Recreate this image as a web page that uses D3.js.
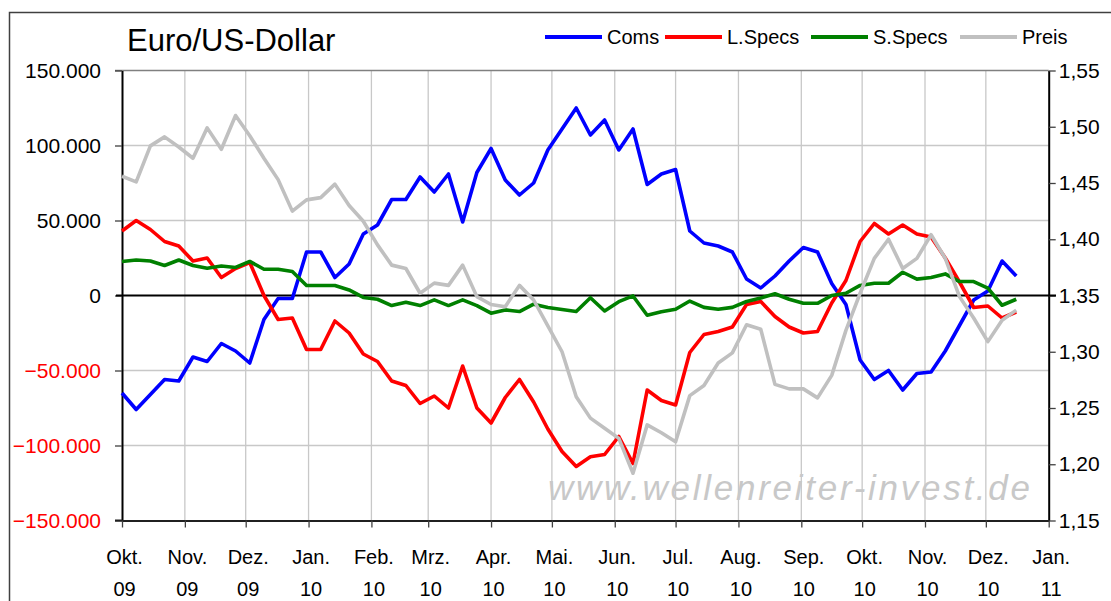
<!DOCTYPE html>
<html><head><meta charset="utf-8">
<script src="https://cdn.jsdelivr.net/npm/d3@7"></script>
<style>
body{margin:0;background:#fff}
svg{display:block}
text{font-family:"Liberation Sans",Arial,Helvetica,sans-serif}
</style>
</head><body>
<svg id="chart" width="1111" height="601"></svg>
<script>
// ---------------- data ----------------
const title = "Euro/US-Dollar";
const seriesNames = ["Coms", "L.Specs", "S.Specs", "Preis"];
const monthLabels = ["Okt.","Nov.","Dez.","Jan.","Feb.","Mrz.","Apr.","Mai.","Jun.","Jul.","Aug.","Sep.","Okt.","Nov.","Dez.","Jan."];
const yearLabels  = ["09","09","09","10","10","10","10","10","10","10","10","10","10","10","10","11"];
const leftTicks  = [-150000,-100000,-50000,0,50000,100000,150000];
const rightTicks = [1.15,1.20,1.25,1.30,1.35,1.40,1.45,1.50,1.55];
const firstWeek = new Date(2009, 9, 1);   // first weekly observation

// weekly values, thousands of contracts
const coms = [-65,-76,-66,-56,-57,-41,-44,-32,-37,-45,-16,-2,-2,29,29,12,21,41,47,64,64,79,69,81,49,82,98,77,67,75,97,111,125,107,117,97,111,74,81,84,43,35,33,29,11,5,13,23,32,29,8,-6,-43,-56,-50,-63,-52,-51,-37,-20,-3,3,23,13];
const lspecs = [43,50,44,36,33,23,25,12,18,22,0,-16,-15,-36,-36,-17,-25,-39,-44,-57,-60,-72,-67,-75,-47,-75,-85,-68,-56,-71,-89,-104,-114,-107.5,-106,-94,-112,-63,-70,-73,-38,-26,-24,-21,-6,-4,-14,-21,-25,-24,-5,10,36,48,41,47,41,39,25,9,-8,-7,-15,-11];
const sspecs = [22.7,23.7,23,20,23.7,20,18.2,19.7,18.7,22.7,17.5,17.5,16,6.7,6.7,6.7,3.7,-1.3,-2.5,-6.7,-4.5,-6.7,-2.9,-6.7,-2.9,-6.7,-11.8,-9.6,-10.7,-5.8,-8,-9.3,-10.7,-1.5,-10.3,-4.1,-0.3,-13.2,-10.8,-9.2,-3.7,-7.9,-9.2,-7.9,-4,-1.7,1.2,-2.5,-5.2,-5.2,0,1.5,6.7,8.2,8.2,15.5,10.9,12,14.4,9.3,9.3,4.9,-6.5,-2.5];
// EUR/USD price, right axis
const preis = [1.456,1.451,1.483,1.491,1.482,1.472,1.499,1.480,1.510,1.492,1.472,1.453,1.425,1.435,1.437,1.449,1.430,1.416,1.395,1.377,1.374,1.352,1.361,1.359,1.377,1.349,1.342,1.340,1.359,1.346,1.323,1.300,1.260,1.241,1.232,1.223,1.192,1.235,1.228,1.220,1.261,1.270,1.290,1.299,1.324,1.320,1.271,1.267,1.267,1.259,1.279,1.319,1.352,1.383,1.400,1.374,1.383,1.404,1.383,1.349,1.330,1.309,1.328,1.337];

// ---------------- layout ----------------
const colors = {Coms:"#0000ff","L.Specs":"#ff0000","S.Specs":"#008000",Preis:"#c0c0c0"};
const L = 122, R = 1048.7, T = 70.5, B = 520.5;
const svg = d3.select("#chart");
svg.append("rect").attr("width",1111).attr("height",601).attr("fill","#fff");

const de = d3.formatLocale({decimal:",", thousands:".", grouping:[3], currency:["","€"]});
const fmtL = de.format(",.0f");
const fmtR = de.format(".2f");

const dates = coms.map((_, i) => d3.timeDay.offset(firstWeek, 7 * i));
const monthDates = d3.timeMonth.range(new Date(2009,9,1), new Date(2011,0,2));

const x = d3.scaleTime().domain([new Date(2009,9,1), new Date(2011,0,1)]).range([L, R]);
const yL = d3.scaleLinear().domain([-150000,150000]).range([B, T]);
const yR = d3.scaleLinear().domain([1.15,1.55]).range([B, T]);

// outer chart frame
svg.append("rect").attr("x",9.5).attr("y",12.5).attr("width",1200).attr("height",700)
  .attr("fill","none").attr("stroke","#404040").attr("stroke-width",1.5);

// title
svg.append("text").attr("x",127).attr("y",51).attr("font-size",31).attr("fill","#000").text(title);

// gridlines
const grid = svg.append("g");
grid.selectAll("line.h").data(leftTicks.filter(v => v !== 0 && v !== 150000 && v !== -150000)).join("line")
  .attr("x1",L).attr("x2",R).attr("y1",d=>yL(d)).attr("y2",d=>yL(d))
  .attr("stroke","#c8c8c8").attr("stroke-width",1.3);
grid.selectAll("line.v").data(monthDates.slice(1, -1)).join("line")
  .attr("x1",d=>x(d)).attr("x2",d=>x(d)).attr("y1",T).attr("y2",B)
  .attr("stroke","#c8c8c8").attr("stroke-width",1.3);
// top border of plot
svg.append("line").attr("x1",115).attr("x2",R).attr("y1",T).attr("y2",T)
  .attr("stroke","#808080").attr("stroke-width",1.5);

// watermark
svg.append("text").attr("x",548).attr("y",500).attr("font-size",35)
  .attr("font-style","italic").attr("fill","#c8c8c8")
  .attr("textLength",482).attr("lengthAdjust","spacing")
  .text("www.wellenreiter-invest.de");

// left axis
const axL = svg.append("g").attr("transform",`translate(${L},0)`)
  .call(d3.axisLeft(yL).tickValues(leftTicks).tickSize(7).tickSizeOuter(0).tickFormat(fmtL));
axL.select(".domain").attr("stroke","#000").attr("stroke-width",2);
axL.selectAll(".tick line").attr("stroke","#404040").attr("stroke-width",1.3);
axL.selectAll(".tick text").attr("x",-21).attr("font-size",21)
  .attr("font-family","Liberation Sans, Arial, sans-serif")
  .attr("fill",d => d < 0 ? "#ff0000" : "#000");

// right axis
const axR = svg.append("g").attr("transform",`translate(${R},0)`)
  .call(d3.axisRight(yR).tickValues(rightTicks).tickSize(7).tickSizeOuter(0).tickFormat(fmtR));
axR.select(".domain").attr("stroke","#000").attr("stroke-width",2);
axR.selectAll(".tick line").attr("stroke","#404040").attr("stroke-width",1.3);
axR.selectAll(".tick text").attr("x",10).attr("font-size",21)
  .attr("font-family","Liberation Sans, Arial, sans-serif").attr("fill","#000");

// bottom axis
const axB = svg.append("g").attr("transform",`translate(0,${B})`)
  .call(d3.axisBottom(x).tickValues(monthDates).tickSize(7).tickSizeOuter(0).tickFormat(""));
axB.select(".domain").attr("stroke","#202020").attr("stroke-width",2);
axB.selectAll(".tick line").attr("stroke","#404040").attr("stroke-width",1.3);
axB.selectAll(".tick").each(function(d, i) {
  const t = d3.select(this).append("text").attr("font-size",20).attr("fill","#000")
    .attr("text-anchor","middle").attr("font-family","Liberation Sans, Arial, sans-serif");
  t.append("tspan").attr("x",2).attr("y",43).text(monthLabels[i]);
  t.append("tspan").attr("x",2).attr("y",75).text(yearLabels[i]);
});
// extend bottom axis line to left tick area
svg.append("line").attr("x1",115).attr("x2",L).attr("y1",B).attr("y2",B).attr("stroke","#202020").attr("stroke-width",2);

// zero line
svg.append("line").attr("x1",116).attr("x2",1056).attr("y1",yL(0)).attr("y2",yL(0))
  .attr("stroke","#000").attr("stroke-width",2);

// series lines
const lineL = d3.line().x((d,i)=>x(dates[i])).y(d=>yL(d*1000));
const lineR = d3.line().x((d,i)=>x(dates[i])).y(d=>yR(d));
const plot = svg.append("g").attr("fill","none").attr("stroke-width",3.6)
  .attr("stroke-linejoin","round").attr("stroke-linecap","butt");
plot.append("path").attr("d",lineL(coms)).attr("stroke",colors["Coms"]);
plot.append("path").attr("d",lineL(lspecs)).attr("stroke",colors["L.Specs"]);
plot.append("path").attr("d",lineL(sspecs)).attr("stroke",colors["S.Specs"]);
plot.append("path").attr("d",lineR(preis)).attr("stroke",colors["Preis"]);

// legend
const legendX = [545, 665, 811, 960];
const lg = svg.append("g");
seriesNames.forEach((n, i) => {
  lg.append("line").attr("x1",legendX[i]).attr("x2",legendX[i]+57).attr("y1",37).attr("y2",37)
    .attr("stroke",colors[n]).attr("stroke-width",4);
  lg.append("text").attr("x",legendX[i]+62).attr("y",44).attr("font-size",20).attr("fill","#000").text(n);
});
</script>
</body></html>
